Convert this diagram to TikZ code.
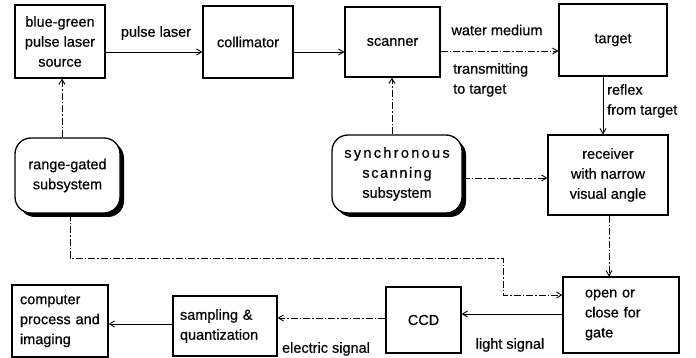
\documentclass[tikz,border=0pt]{standalone}
\usepackage{fontspec}
\setmainfont[FakeBold=0.5]{Liberation Sans}
\newfontfamily\spacedfont[LetterSpace=16,FakeBold=0.5]{Liberation Sans}
\newfontfamily\spacedfontb[LetterSpace=11,FakeBold=0.5]{Liberation Sans}
\usetikzlibrary{arrows.meta,shadows}
\begin{document}
\begin{tikzpicture}[x=1pt,y=-1pt,
  font=\fontsize{14.5}{20}\selectfont,
  blk/.style={draw,line width=1.3pt,align=center,inner sep=2pt},
  rnd/.style={blk,rounded corners=16pt,
    drop shadow={shadow xshift=4pt,shadow yshift=-4pt,opacity=1,fill=black}, fill=white},
  con/.style={line width=0.9pt,-{Straight Barb[length=5pt,width=6pt]}},
  dd/.style={con,dash pattern=on 7pt off 2pt on 1.5pt off 2pt},
  lbl/.style={inner sep=1pt}]
\useasboundingbox (0,0) rectangle (696,358);
\node[blk,minimum width=90pt,minimum height=73pt] (laser) at (60,41.5) {blue-green\\pulse laser\\source};
\node[blk,minimum width=90pt,minimum height=72pt] (coll) at (248,42) {collimator};
\node[blk,minimum width=95pt,minimum height=70pt] (scan) at (392.5,42) {scanner};
\node[blk,minimum width=108pt,minimum height=72pt] (target) at (613,40) {target};
\node[blk,minimum width=120pt,minimum height=80pt] (recv) at (608,175) {receiver\\with narrow\\visual angle};
\node[blk,minimum width=116pt,minimum height=76pt,text width=72pt,align=left] (gate) at (621,315) {open or\\close for\\gate};
\node[blk,minimum width=75pt,minimum height=66pt] (ccd) at (423.5,320) {CCD};
\node[blk,minimum width=104pt,minimum height=60pt,text width=90pt,align=left] (samp) at (225,326) {sampling \&\\quantization};
\node[blk,minimum width=96pt,minimum height=72pt,text width=80pt,align=left] (comp) at (60,321) {computer\\process and\\imaging};
\node[rnd,minimum width=105pt,minimum height=75pt] (range) at (67.5,175.5) {range-gated\\subsystem};
\node[rnd,minimum width=130pt,minimum height=78pt] (sync) at (397,174) {{\spacedfont synchronous}\\{\spacedfontb scanning}\\subsystem};

\coordinate (y52) at (0,52);
\coordinate (y51) at (0,51);
\coordinate (y178) at (0,178);
\coordinate (y314) at (0,314);
\coordinate (y318) at (0,318);
\coordinate (y324) at (0,324);
\coordinate (x62) at (62,0);
\coordinate (x392) at (392,0);
\coordinate (x603) at (603,0);
\coordinate (x609) at (609,0);
\coordinate (x70) at (70,0);
\coordinate (c1) at (70,258);
\coordinate (c2) at (503,258);
\coordinate (c3) at (503,295);

\draw[con] (laser.east |- y52) -- (coll.west |- y52);
\draw[con] (coll.east |- y52) -- (scan.west |- y52);
\draw[dd] (scan.east |- y51) -- (target.west |- y51);
\draw[con] (target.south -| x603) -- (recv.north -| x603);
\draw[dd] (range.north -| x62) -- (laser.south -| x62);
\draw[dd] (sync.north -| x392) -- (scan.south -| x392);
\draw[dd] (sync.east |- y178) -- (recv.west |- y178);
\draw[dd] (recv.south -| x609) -- (gate.north -| x609);
\draw[dd] (range.south -| x70) -- (c1) -- (c2) -- (c3) -- (gate.west |- c3);
\draw[con] (gate.west |- y314) -- (ccd.east |- y314);
\draw[dd] (ccd.west |- y318) -- (samp.east |- y318);
\draw[con] (samp.west |- y324) -- (comp.east |- y324);

\node[lbl] (l1) at (156,33) {pulse laser};
\node[lbl] (l2) at (497,30) {water medium};
\node[lbl,align=left,anchor=north west] (l3) at (452,62) {transmitting\\to target};
\node[lbl,align=left,anchor=north west] (l4) at (606,83) {reflex\\from target};
\node[lbl] (l5) at (510,345) {light signal};
\node[lbl] (l6) at (326,349) {electric signal};
\end{tikzpicture}
\end{document}
